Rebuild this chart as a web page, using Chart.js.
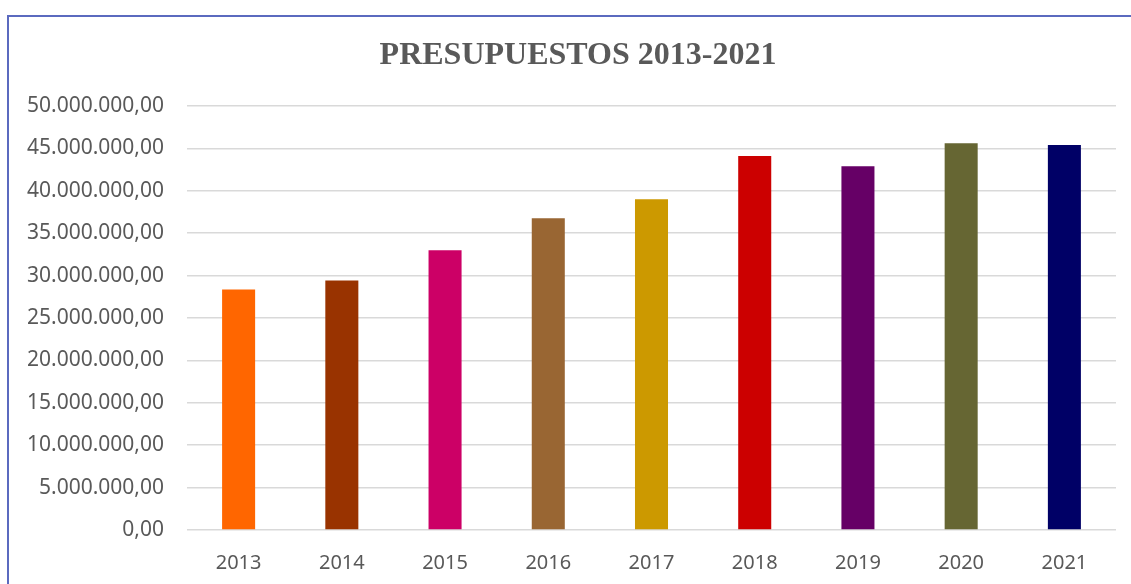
<!DOCTYPE html>
<html lang="es">
<head>
<meta charset="utf-8">
<title>Presupuestos 2013-2021</title>
<script src="https://cdn.jsdelivr.net/npm/chart.js@4.4.1/dist/chart.umd.min.js"></script>
<style>
    html, body { margin: 0; padding: 0; background: #fff; overflow: hidden; }
    #wrap { position: relative; width: 1131px; height: 584px; }
    #marco {
        position: absolute; left: 7px; top: 15px; width: 1140px; height: 600px;
        border: 2px solid #5b6abf; pointer-events: none;
    }
    canvas { position: absolute; left: 0; top: 0; }
</style>
</head>
<body>
<div id="wrap">
    <canvas id="presupuestosChart" width="1131" height="584"></canvas>
    <div id="marco"></div>
</div>
<script>
// Datos del gráfico
const years = ['2013', '2014', '2015', '2016', '2017', '2018', '2019', '2020', '2021'];
const budgets = [28370000, 29430000, 33000000, 36760000, 39000000, 44100000, 42900000, 45600000, 45400000];
const barColors = ['#ff6600', '#993300', '#cc0066', '#996633', '#cc9900', '#cc0000', '#660066', '#666633', '#000066'];
const yTicks = [0, 5000000, 10000000, 15000000, 20000000, 25000000, 30000000, 35000000, 40000000, 45000000, 50000000];
const chartTitle = 'PRESUPUESTOS 2013-2021';

// Formato español: 50.000.000,00
function formatEs(value) {
    const parts = Number(value).toFixed(2).split('.');
    const entero = parts[0].replace(/\B(?=(\d{3})+(?!\d))/g, '.');
    return entero + ',' + parts[1];
}

// Título centrado sobre el marco (no sobre el lienzo completo)
const tituloPlugin = {
    id: 'tituloMarco',
    afterDraw(chart) {
        const c = chart.ctx;
        c.save();
        c.font = "bold 32px 'Liberation Serif', 'Times New Roman', serif";
        c.fillStyle = '#595959';
        c.textAlign = 'center';
        c.textBaseline = 'middle';
        c.fillText(chartTitle, 578, 56);
        c.restore();
    }
};

const ctx = document.getElementById('presupuestosChart').getContext('2d');
new Chart(ctx, {
    type: 'bar',
    data: {
        labels: years,
        datasets: [{
            label: 'Presupuesto',
            data: budgets,
            backgroundColor: barColors,
            borderWidth: 0,
            barPercentage: 0.32,
            categoryPercentage: 1
        }]
    },
    options: {
        responsive: false,
        animation: false,
        layout: {
            padding: { left: 0, right: 15, top: 106, bottom: -12 }
        },
        plugins: {
            legend: { display: false },
            tooltip: { enabled: false },
            title: { display: false }
        },
        scales: {
            x: {
                grid: { display: false, drawTicks: false },
                border: { display: false },
                ticks: {
                    color: '#595959',
                    padding: 21,
                    font: { family: "'Noto Sans', sans-serif", size: 20 }
                }
            },
            y: {
                min: 0,
                max: 50000000,
                afterFit: function(scale) { scale.width = 187; },
                afterBuildTicks: function(scale) {
                    scale.ticks = yTicks.map(v => ({ value: v }));
                },
                grid: { color: '#d9d9d9', lineWidth: 1.5, drawTicks: false },
                border: { display: false },
                ticks: {
                    color: '#595959',
                    padding: 23,
                    font: { family: "'Noto Sans', sans-serif", size: 21 },
                    callback: function(value) { return formatEs(value); }
                }
            }
        }
    },
    plugins: [tituloPlugin]
});
</script>
</body>
</html>
